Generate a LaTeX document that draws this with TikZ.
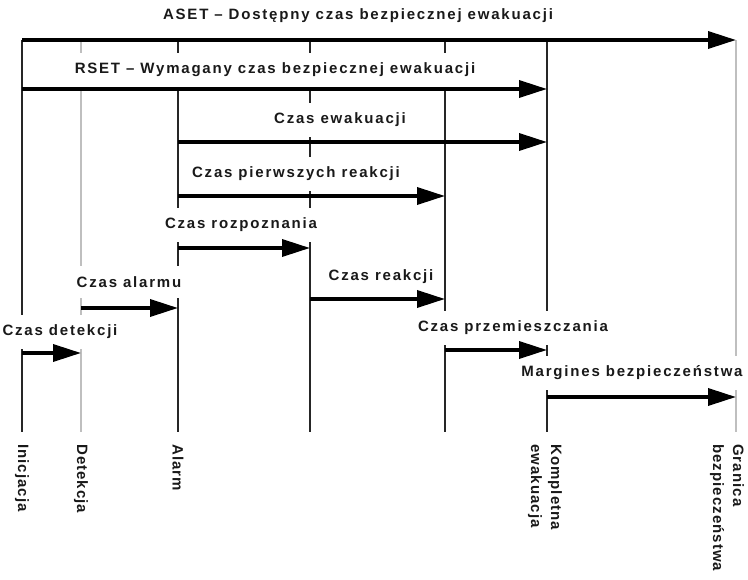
\documentclass[tikz,border=0pt]{standalone}
\usepackage{fontspec}
\setmainfont{Liberation Sans}[LetterSpace=12]
\usetikzlibrary{arrows.meta}
\begin{document}
\begin{tikzpicture}[x=1pt,y=-1pt,
  tl/.style={line width=2pt, black!85},
  tlg/.style={line width=1.4pt, black!25},
  arr/.style={line width=3.5pt, -{Triangle[length=28pt,width=17pt]}},
  lbl/.style={fill=white, inner xsep=10pt, inner ysep=10pt, text=black!90, font=\bfseries\fontsize{15}{18}\selectfont},
  vlbl/.style={rotate=-90, anchor=west, align=left, inner sep=0pt, text=black!90, font=\bfseries\fontsize{15}{20}\selectfont\addfontfeatures{LetterSpace=7}}]
\useasboundingbox (0,0) rectangle (748,580);
% time lines (x) and rows (y)
\coordinate (Lini) at (22,0);
\coordinate (Ldet) at (81,0);
\coordinate (Lal) at (178,0);
\coordinate (Lroz) at (310,0);
\coordinate (Lpr) at (445,0);
\coordinate (Lkom) at (547,0);
\coordinate (Lgr) at (736,0);
\coordinate (Top) at (0,40);
\coordinate (Bot) at (0,432);
\coordinate (rAset) at (0,40);
\coordinate (rRset) at (0,89);
\coordinate (rEwak) at (0,142);
\coordinate (rPierw) at (0,196);
\coordinate (rRoz) at (0,248);
\coordinate (rAlarm) at (0,308);
\coordinate (rDet) at (0,353);
\coordinate (rReak) at (0,299);
\coordinate (rPrz) at (0,350);
\coordinate (rMarg) at (0,397);
% vertical lines
\draw[tl] (Lini|-Top) -- (Lini|-Bot);
\draw[tlg] (Ldet|-Top) -- (Ldet|-Bot);
\draw[tl] (Lal|-Top) -- (Lal|-Bot);
\draw[tl] (Lroz|-Top) -- (Lroz|-Bot);
\draw[tl] (Lpr|-Top) -- (Lpr|-Bot);
\draw[tl] (Lkom|-Top) -- (Lkom|-Bot);
\draw[tlg] (Lgr|-Top) -- (Lgr|-Bot);
% labels
\node[lbl] (tAset) at (358,16) {ASET – Dostępny czas bezpiecznej ewakuacji};
\node[lbl] (tRset) at (275,70) {RSET – Wymagany czas bezpiecznej ewakuacji};
\node[lbl] (tEwak) at (340,120) {Czas ewakuacji};
\node[lbl] (tPierw) at (296,174) {Czas pierwszych reakcji};
\node[lbl] (tRoz) at (241,225) {Czas rozpoznania};
\node[lbl] (tAlarm) at (129,282) {Czas alarmu};
\node[lbl] (tReak) at (381,277) {Czas reakcji};
\node[lbl] (tDet) at (60,332) {Czas detekcji};
\node[lbl] (tPrz) at (513,328) {Czas przemieszczania};
\node[lbl] (tMarg) at (632,373) {Margines bezpieczeństwa};
% arrows
\draw[arr] (Lini|-rAset) -- (Lgr|-rAset);
\draw[arr] (Lini|-rRset) -- (Lkom|-rRset);
\draw[arr] (Lal|-rEwak) -- (Lkom|-rEwak);
\draw[arr] (Lal|-rPierw) -- (Lpr|-rPierw);
\draw[arr] (Lal|-rRoz) -- (Lroz|-rRoz);
\draw[arr] (Ldet|-rAlarm) -- (Lal|-rAlarm);
\draw[arr] (Lroz|-rReak) -- (Lpr|-rReak);
\draw[arr] (Lini|-rDet) -- (Ldet|-rDet);
\draw[arr] (Lpr|-rPrz) -- (Lkom|-rPrz);
\draw[arr] (Lkom|-rMarg) -- (Lgr|-rMarg);
% bottom labels
\node[vlbl] (bIni) at (22,444) {Inicjacja};
\node[vlbl] (bDet) at (81,444) {Detekcja};
\node[vlbl] (bAl) at (178,444) {Alarm};
\node[vlbl] (bKom) at (545,444) {Kompletna\\ewakuacja};
\node[vlbl] (bGr) at (727,444) {Granica\\bezpieczeństwa};
\end{tikzpicture}
\end{document}
